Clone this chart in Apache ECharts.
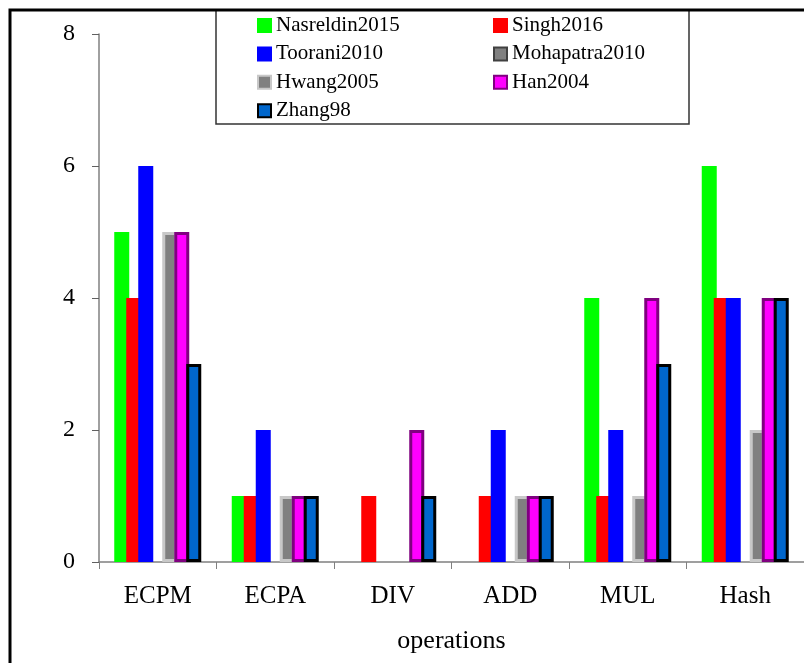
<!DOCTYPE html>
<html>
<head>
<meta charset="utf-8">
<script src="https://cdn.jsdelivr.net/npm/echarts@6/dist/echarts.min.js"></script>
<style>
  html, body { margin: 0; padding: 0; background: #fff; }
  #chart { width: 804px; height: 663px; }
</style>
</head>
<body>
<div id="chart"></div>
<script>
// Operation counts per scheme
const categories = ['ECPM', 'ECPA', 'DIV', 'ADD', 'MUL', 'Hash'];
const nasreldin2015 = [5, 1, 0, 0, 4, 6];
const singh2016     = [4, 1, 1, 1, 1, 4];
const toorani2010   = [6, 2, 0, 2, 2, 4];
const mohapatra2010 = [0, 0, 0, 0, 0, 0];
const hwang2005     = [5, 1, 0, 1, 1, 2];
const han2004       = [5, 1, 2, 1, 4, 4];
const zhang98       = [3, 1, 1, 1, 3, 4];
const yTicks = [0, 2, 4, 6, 8];

const FONT = '"Liberation Serif", "Times New Roman", serif';

const seriesDefs = [
  { name: 'Nasreldin2015', data: nasreldin2015, fill: '#00FF00', border: '#00FF00', bw: 2 },
  { name: 'Singh2016',     data: singh2016,     fill: '#FF0000', border: '#FF0000', bw: 2 },
  { name: 'Toorani2010',   data: toorani2010,   fill: '#0000FF', border: '#0000FF', bw: 2 },
  { name: 'Mohapatra2010', data: mohapatra2010, fill: '#808080', border: '#404040', bw: 3 },
  { name: 'Hwang2005',     data: hwang2005,     fill: '#808080', border: '#C8C8C8', bw: 3 },
  { name: 'Han2004',       data: han2004,       fill: '#FF00FF', border: '#800080', bw: 3 },
  { name: 'Zhang98',       data: zhang98,       fill: '#0066CC', border: '#000000', bw: 3 }
];

// bars are 15px wide and overlap their neighbour by 3px; zero-height bars are left empty
const series = seriesDefs.map(d => ({
  name: d.name,
  type: 'bar',
  barWidth: 15,
  barGap: '-20%',
  data: d.data.map(v => (v === 0 ? '-' : v)),
  itemStyle: { color: d.fill, borderColor: d.border, borderWidth: d.bw },
  emphasis: { disabled: true },
  animation: false
}));

const legendText = { fontFamily: FONT, fontSize: 21, color: '#000' };
const legendCommon = {
  orient: 'vertical',
  itemWidth: 13,
  itemHeight: 13,
  itemGap: 7.4,
  icon: 'rect',
  textStyle: legendText,
  selectedMode: false,
  padding: 0
};

const chart = echarts.init(document.getElementById('chart'), null, { renderer: 'canvas' });
chart.setOption({
  backgroundColor: '#fff',
  animation: false,
  grid: { left: 99, top: 34, width: 718, height: 528, containLabel: false },
  legend: [
    Object.assign({}, legendCommon, {
      left: 257, top: 15,
      data: ['Nasreldin2015', 'Toorani2010', 'Hwang2005', 'Zhang98']
    }),
    Object.assign({}, legendCommon, {
      left: 493, top: 15,
      data: ['Singh2016', 'Mohapatra2010', 'Han2004']
    })
  ],
  xAxis: {
    type: 'category',
    data: categories,
    name: 'operations',
    nameLocation: 'middle',
    nameGap: 66,
    nameTextStyle: { fontFamily: FONT, fontSize: 26, color: '#000' },
    axisLine: { show: true, lineStyle: { color: '#808080', width: 1.5 } },
    axisTick: { show: true, alignWithLabel: false, length: 7, lineStyle: { color: '#808080' } },
    axisLabel: { fontFamily: FONT, fontSize: 25, color: '#000', margin: 22 },
    splitLine: { show: false }
  },
  yAxis: {
    type: 'value',
    min: yTicks[0],
    max: yTicks[yTicks.length - 1],
    interval: 2,
    axisLine: { show: true, lineStyle: { color: '#808080', width: 1.5 } },
    axisTick: { show: true, length: 7, lineStyle: { color: '#606060' } },
    axisLabel: { fontFamily: FONT, fontSize: 24, color: '#000', margin: 24 },
    splitLine: { show: false }
  },
  graphic: [
    {
      type: 'polyline',
      shape: { points: [[10, 663], [10, 10], [804, 10]] },
      style: { stroke: '#000', lineWidth: 3, fill: null },
      silent: true,
      z: 10
    },
    {
      type: 'rect',
      shape: { x: 216, y: 10, width: 473, height: 114 },
      style: { stroke: '#333', lineWidth: 1.5, fill: null },
      silent: true,
      z: 9
    }
  ],
  series: series
});
</script>
</body>
</html>
